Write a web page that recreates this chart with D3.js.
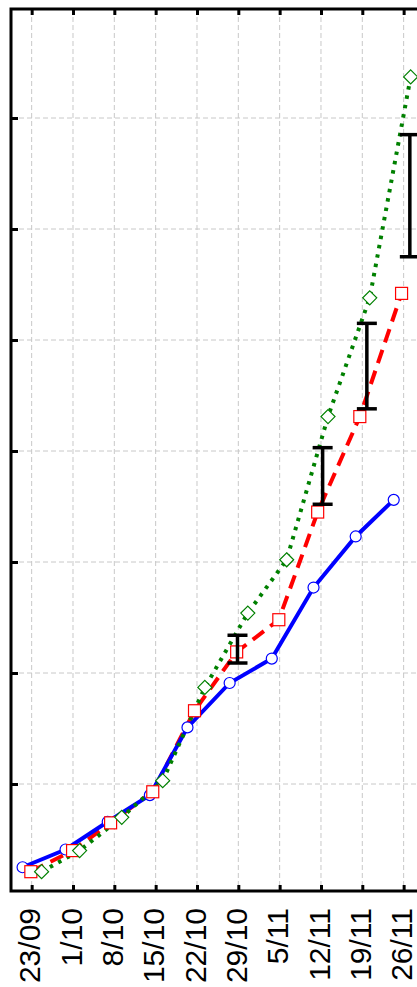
<!DOCTYPE html>
<html>
<head>
<meta charset="utf-8">
<script src="https://cdn.jsdelivr.net/npm/d3@7"></script>
<style>
  html, body { margin: 0; padding: 0; background: #fff; }
  svg { display: block; }
</style>
</head>
<body>
<div id="chart"></div>
<script>
// Tick labels (weeks)
const dates = ["23/09", "1/10", "8/10", "15/10", "22/10", "29/10", "5/11", "12/11", "19/11", "26/11"];
const yTicks = [1, 2, 3, 4, 5, 6, 7];

// Series (x in week index, y in tick units)
const blueX = [-0.22, 0.82, 1.84, 2.86, 3.77, 4.79, 5.81, 6.82, 7.84, 8.76];
const blueY = [0.25, 0.41, 0.66, 0.90, 1.51, 1.91, 2.13, 2.77, 3.23, 3.56];

const redX = [-0.02, 0.99, 1.91, 2.93, 3.94, 4.96, 5.98, 6.92, 7.94, 8.95];
const redY = [0.21, 0.40, 0.65, 0.93, 1.66, 2.19, 2.48, 3.45, 4.31, 5.42];

const greenX = [0.24, 1.16, 2.18, 3.17, 4.19, 5.23, 6.17, 7.17, 8.18, 9.17];
const greenY = [0.21, 0.40, 0.70, 1.03, 1.87, 2.54, 3.02, 4.31, 5.38, 7.37];

// Error bars
const errX = [4.98, 7.04, 8.11, 9.15];
const errLo = [2.09, 3.52, 4.38, 5.75];
const errHi = [2.34, 4.03, 5.15, 6.85];

const W = 417, H = 987;
const plotLeft = 11, plotTop = 9, plotBottom = 891;

const svg = d3.select("#chart").append("svg")
    .attr("width", W)
    .attr("height", H)
    .style("font-family", "'Liberation Sans', Arial, sans-serif");

const x = d3.scaleLinear().domain([-0.5, 9.5]).range([plotLeft, plotLeft + 413.3]);
const y = d3.scaleLinear().domain([0, 8]).range([895, 7]);

// grid
const grid = svg.append("g")
    .attr("stroke", "#c8c8c8")
    .attr("stroke-width", 1)
    .attr("stroke-dasharray", "5,3");
grid.selectAll("line.v").data(d3.range(dates.length)).enter().append("line")
    .attr("x1", d => x(d)).attr("x2", d => x(d))
    .attr("y1", plotTop).attr("y2", plotBottom);
grid.selectAll("line.h").data(yTicks).enter().append("line")
    .attr("x1", plotLeft).attr("x2", W)
    .attr("y1", d => y(d)).attr("y2", d => y(d));

// series
const series = [
    { xs: redX, ys: redY, color: "#ff0000", dash: "14,8", cap: "butt" },
    { xs: blueX, ys: blueY, color: "#0000ff", dash: null, cap: "butt" },
    { xs: greenX, ys: greenY, color: "#008000", dash: "3.5,6", cap: "butt" }
];

const line = d3.line().x(d => x(d[0])).y(d => y(d[1]));

series.forEach(s => {
    svg.append("path")
        .datum(s.xs.map((v, i) => [v, s.ys[i]]))
        .attr("fill", "none")
        .attr("stroke", s.color)
        .attr("stroke-width", 4)
        .attr("stroke-linecap", s.cap)
        .attr("stroke-dasharray", s.dash)
        .attr("d", line);
});

// markers
svg.selectAll("circle.blue")
    .data(blueX.map((v, i) => [v, blueY[i]]))
    .enter().append("circle")
    .attr("cx", d => x(d[0]))
    .attr("cy", d => y(d[1]))
    .attr("r", 5.5)
    .attr("fill", "#fff")
    .attr("stroke", "#0000ff")
    .attr("stroke-width", 1.2);

svg.selectAll("rect.red")
    .data(redX.map((v, i) => [v, redY[i]]))
    .enter().append("rect")
    .attr("x", d => x(d[0]) - 6)
    .attr("y", d => y(d[1]) - 6)
    .attr("width", 12)
    .attr("height", 12)
    .attr("fill", "#fff")
    .attr("stroke", "#ff0000")
    .attr("stroke-width", 1.2);

svg.selectAll("path.green")
    .data(greenX.map((v, i) => [v, greenY[i]]))
    .enter().append("path")
    .attr("d", d => {
        const cx = x(d[0]), cy = y(d[1]), r = 7;
        return `M${cx},${cy - r}L${cx + r},${cy}L${cx},${cy + r}L${cx - r},${cy}Z`;
    })
    .attr("fill", "#fff")
    .attr("stroke", "#008000")
    .attr("stroke-width", 1.2);

// error bars
const eb = svg.append("g").attr("stroke", "#000").attr("stroke-width", 3.5);
errX.forEach((v, i) => {
    const cx = x(v);
    eb.append("line").attr("x1", cx).attr("x2", cx).attr("y1", y(errLo[i])).attr("y2", y(errHi[i]));
    eb.append("line").attr("x1", cx - 10).attr("x2", cx + 10).attr("y1", y(errLo[i])).attr("y2", y(errLo[i]));
    eb.append("line").attr("x1", cx - 10).attr("x2", cx + 10).attr("y1", y(errHi[i])).attr("y2", y(errHi[i]));
});

// frame
const frame = svg.append("g").attr("stroke", "#000").attr("stroke-width", 3).attr("fill", "none");
frame.append("path").attr("d", `M${W},${plotTop}H${plotLeft}V${plotBottom}H${W}`);

// bottom axis
const xAxis = svg.append("g")
    .attr("transform", `translate(0,${plotBottom})`)
    .call(d3.axisBottom(x).tickValues(d3.range(dates.length)).tickFormat(i => dates[i]).tickSize(-6).tickSizeOuter(0));
xAxis.select(".domain").remove();
xAxis.selectAll(".tick line").attr("stroke", "#000").attr("stroke-width", 3);
xAxis.selectAll(".tick text")
    .attr("transform", "rotate(-90)")
    .attr("x", -17)
    .attr("y", 0)
    .attr("dy", "0.27em")
    .attr("text-anchor", "end")
    .attr("fill", "#000")
    .attr("font-size", "30px")
    .attr("font-family", "'Liberation Sans', Arial, sans-serif");

// top ticks
const topAxis = svg.append("g")
    .attr("transform", `translate(0,${plotTop})`)
    .call(d3.axisTop(x).tickValues(d3.range(dates.length)).tickFormat("").tickSize(-6).tickSizeOuter(0));
topAxis.select(".domain").remove();
topAxis.selectAll(".tick line").attr("stroke", "#000").attr("stroke-width", 3);

// left ticks
const yAxis = svg.append("g")
    .attr("transform", `translate(${plotLeft},0)`)
    .call(d3.axisLeft(y).tickValues(yTicks).tickFormat("").tickSize(-7).tickSizeOuter(0));
yAxis.select(".domain").remove();
yAxis.selectAll(".tick line").attr("stroke", "#000").attr("stroke-width", 3);
</script>
</body>
</html>
